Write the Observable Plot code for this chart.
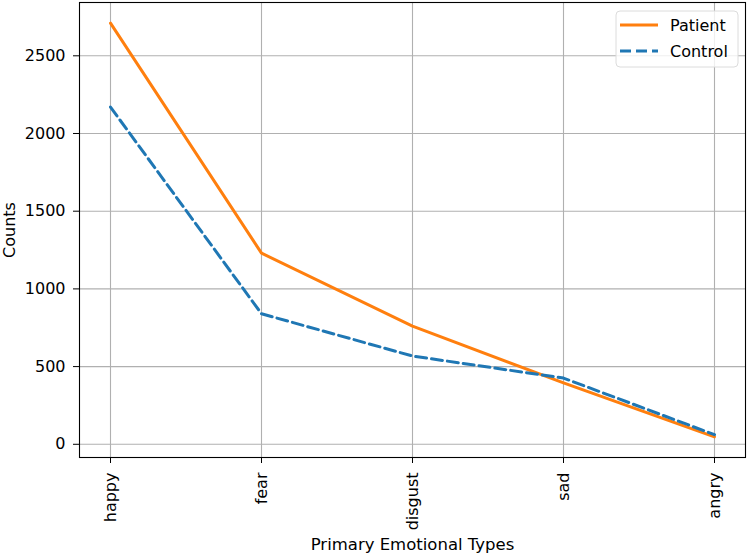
<!DOCTYPE html>
<html>
<head>
<meta charset="utf-8">
<script src="https://cdn.jsdelivr.net/npm/d3@7"></script>
<script src="https://cdn.jsdelivr.net/npm/@observablehq/plot@0.6"></script>
<style>
  html, body { margin: 0; padding: 0; background: #fff; }
  #chart { width: 750px; height: 554px; }
</style>
</head>
<body>
<div id="chart"></div>
<script>
const categories = ["happy", "fear", "disgust", "sad", "angry"];
const patientCounts = [2710, 1230, 760, 395, 48];
const controlCounts = [2170, 840, 568, 426, 62];
const yTicks = [0, 500, 1000, 1500, 2000, 2500];
const seriesNames = ["Patient", "Control"];

const patientData = categories.map((c, i) => ({emotion: c, count: patientCounts[i]}));
const controlData = categories.map((c, i) => ({emotion: c, count: controlCounts[i]}));

const font = "DejaVu Sans, sans-serif";

const chart = Plot.plot({
  width: 750,
  height: 554,
  marginLeft: 79,
  marginRight: 5,
  marginTop: 2,
  marginBottom: 97,
  style: {fontFamily: font, fontSize: "16px", color: "#000", background: "#fff"},
  x: {type: "point", domain: categories, padding: 0.2},
  y: {domain: [-85, 2843]},
  marks: [
    Plot.gridX(categories, {stroke: "#b0b0b0", strokeOpacity: 1, strokeWidth: 1.1}),
    Plot.gridY(yTicks, {stroke: "#b0b0b0", strokeOpacity: 1, strokeWidth: 1.1}),
    Plot.line(patientData, {x: "emotion", y: "count", stroke: "#ff7f0e", strokeWidth: 3}),
    Plot.line(controlData, {x: "emotion", y: "count", stroke: "#1f77b4", strokeWidth: 3, strokeDasharray: "11,5"}),
    Plot.frame({stroke: "#000", strokeWidth: 1.1}),
    Plot.axisY(yTicks, {tickSize: 6, tickPadding: 8, fontSize: 16, tickFormat: d => String(d), label: "Counts", labelAnchor: "center", labelArrow: "none", labelOffset: 76}),
    Plot.axisX(categories, {tickSize: 6, tickPadding: 9, tickRotate: -90, fontSize: 16, label: null}),
    Plot.text(["Primary Emotional Types"], {frameAnchor: "bottom", dy: 92, fontSize: 16.5, lineAnchor: "bottom", text: d => d})
  ]
});

document.getElementById("chart").appendChild(chart);

// legend (matplotlib-style box in upper right)
const svg = d3.select(chart);
const lg = svg.append("g").attr("font-family", font).attr("font-size", 16).attr("text-anchor", "start");
lg.append("rect").attr("x", 616).attr("y", 11).attr("width", 122).attr("height", 56)
  .attr("rx", 4).attr("fill", "#fff").attr("fill-opacity", 0.8).attr("stroke", "#dcdcdc").attr("stroke-width", 1);
const legendStyles = [{color: "#ff7f0e", dash: null}, {color: "#1f77b4", dash: "11,5"}];
seriesNames.forEach((name, i) => {
  const y = 25 + i * 26;
  const line = lg.append("line").attr("x1", 620).attr("x2", 658).attr("y1", y).attr("y2", y)
    .attr("stroke", legendStyles[i].color).attr("stroke-width", 3);
  if (legendStyles[i].dash) line.attr("stroke-dasharray", legendStyles[i].dash);
  lg.append("text").attr("x", 670).attr("y", y).attr("dy", "0.35em").attr("fill", "#000").text(name);
});
</script>
</body>
</html>
